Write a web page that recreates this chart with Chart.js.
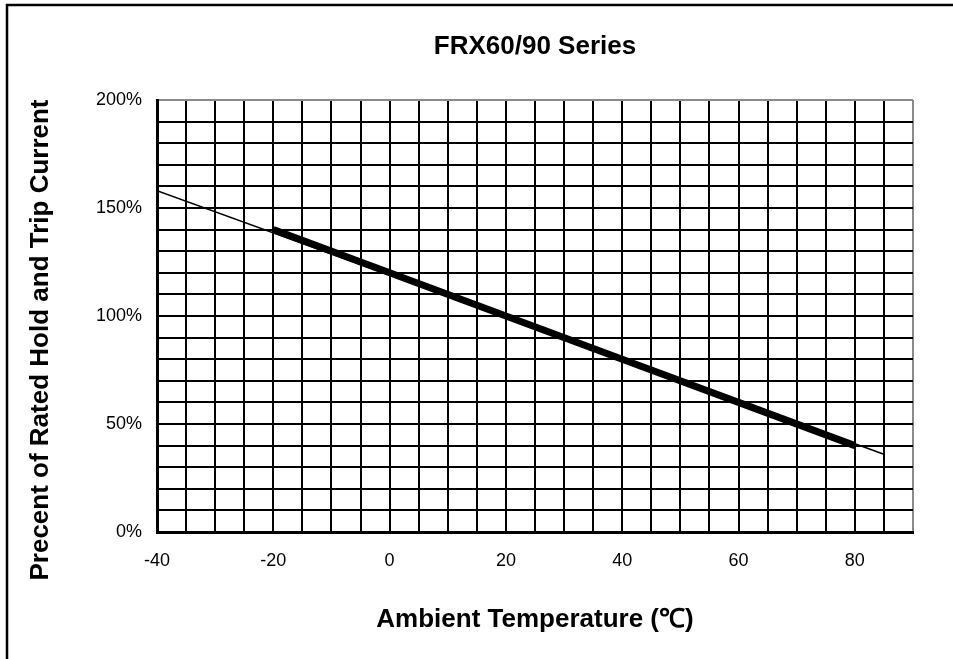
<!DOCTYPE html>
<html>
<head>
<meta charset="utf-8">
<script src="https://cdn.jsdelivr.net/npm/chart.js@4"></script>
<style>
  html, body { margin: 0; padding: 0; background: #fff; }
  canvas { display: block; }
</style>
</head>
<body>
<canvas id="derating" width="953" height="659"></canvas>
<script>
const chartTitle = 'FRX60/90 Series';
const xTitle = 'Ambient Temperature (\u2103)';
const yTitle = 'Precent of Rated Hold and Trip Current';

// thick curve: rated hold/trip current vs temperature
const tempC = [-20, 0, 20, 40, 60, 80];
const percentRated = [140, 120, 100, 80, 60, 40];

// thin extended trend line
const trendTemp = [-40, 85];
const trendPercent = [158, 36];

const fontFamily = '"Liberation Sans", Arial, sans-serif';

const frameAndTitles = {
  id: 'frameAndTitles',
  afterDraw(chart) {
    const ctx = chart.ctx;
    const area = chart.chartArea;
    ctx.save();
    // outer frame (top and left edges only)
    ctx.strokeStyle = '#000';
    ctx.lineWidth = 2.5;
    ctx.beginPath();
    ctx.moveTo(7, 659);
    ctx.lineTo(7, 5);
    ctx.lineTo(953, 5);
    ctx.stroke();

    ctx.fillStyle = '#000';
    ctx.textAlign = 'center';
    ctx.textBaseline = 'middle';
    ctx.font = 'bold 26px ' + fontFamily;
    ctx.fillText(chartTitle, (area.left + area.right) / 2, 47);

    ctx.translate(41, 340);
    ctx.rotate(-Math.PI / 2);
    ctx.font = 'bold 26px ' + fontFamily;
    ctx.fillText(yTitle, 0, 0);
    ctx.restore();
  }
};

const ctx = document.getElementById('derating').getContext('2d');

new Chart(ctx, {
  type: 'line',
  data: {
    datasets: [
      {
        label: 'Trend',
        data: trendTemp.map((t, i) => ({ x: t, y: trendPercent[i] })),
        borderColor: '#000',
        borderWidth: 1.5,
        pointRadius: 0,
        fill: false
      },
      {
        label: 'Rated',
        data: tempC.map((t, i) => ({ x: t, y: percentRated[i] })),
        borderColor: '#000',
        borderWidth: 7,
        pointRadius: 0,
        fill: false
      }
    ]
  },
  options: {
    responsive: false,
    animation: false,
    layout: { padding: { top: 100, right: 40, bottom: 0, left: 0 } },
    plugins: {
      legend: { display: false },
      tooltip: { enabled: false },
      title: { display: false }
    },
    scales: {
      x: {
        type: 'linear',
        min: -40,
        max: 90,
        afterFit: scale => { scale.height = 127; },
        border: { color: '#000', width: 3 },
        grid: {
          drawTicks: false,
          lineWidth: 2,
          color: c => (c.tick && c.tick.value === 90 ? '#8a8a8a' : '#000')
        },
        ticks: {
          stepSize: 5,
          autoSkip: false,
          maxRotation: 0,
          padding: 18,
          color: '#000',
          font: { family: fontFamily, size: 18 },
          callback: v => (v % 20 === 0 && v <= 80 ? String(v) : '')
        },
        title: {
          display: true,
          text: xTitle,
          color: '#000',
          font: { family: fontFamily, size: 26, weight: 'bold', lineHeight: 1.2 },
          padding: { top: 0, bottom: 24 }
        }
      },
      y: {
        min: 0,
        max: 200,
        afterFit: scale => { scale.width = 157; },
        border: { color: '#000', width: 3 },
        grid: {
          drawTicks: false,
          lineWidth: 2,
          color: c => (c.tick && c.tick.value === 200 ? '#8a8a8a' : '#000')
        },
        ticks: {
          stepSize: 10,
          autoSkip: false,
          padding: 15,
          color: '#000',
          font: { family: fontFamily, size: 18 },
          callback: v => (v % 50 === 0 ? v + '%' : '')
        }
      }
    }
  },
  plugins: [frameAndTitles]
});
</script>
</body>
</html>
